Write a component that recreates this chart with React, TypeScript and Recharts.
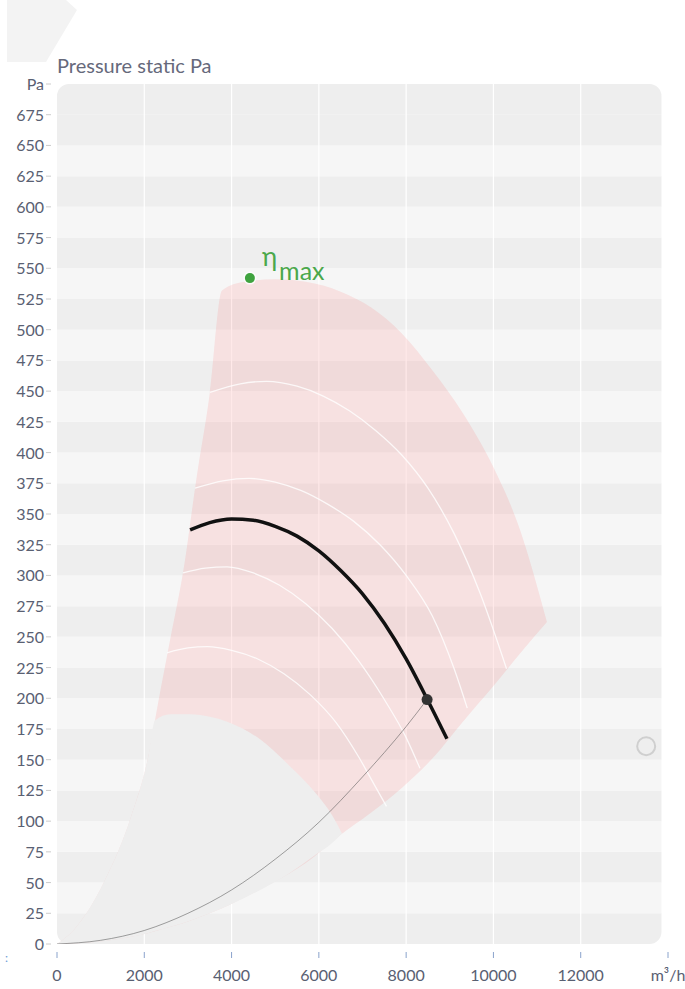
import { Area, ComposedChart, Line, ReferenceArea, ReferenceDot, XAxis, YAxis } from "recharts"

// axis ticks
const xTicks = [0, 2000, 4000, 6000, 8000, 10000, 12000, 14000]
const xTickLabels = ["0", "2000", "4000", "6000", "8000", "10000", "12000", "m³/h"]
const yTicks = [
  0, 25, 50, 75, 100, 125, 150, 175, 200, 225, 250, 275, 300, 325, 350,
  375, 400, 425, 450, 475, 500, 525, 550, 575, 600, 625, 650, 675, 700,
]
const yTickLabels = [
  "0", "25", "50", "75", "100", "125", "150", "175", "200", "225", "250", "275", "300", "325", "350",
  "375", "400", "425", "450", "475", "500", "525", "550", "575", "600", "625", "650", "675", "Pa",
]
const gridFlows = [2000, 4000, 6000, 8000, 10000, 12000]

// operating field (pink)
const fieldFlow = [0, 400, 1100, 1700, 2100, 2300, 2600, 2900, 3200, 3500, 3780, 4300, 5000, 5700, 6500, 7200, 7900, 8600, 9300, 10000, 10600, 11226]
const fieldLow = [0, 0.4, 2.5, 5.8, 9, 11, 14, 17, 21, 25, 29, 38, 51, 66, 89, 107, 127, 151, 181, 210, 236, 262]
const fieldHigh = [0, 12, 52, 104, 154, 193, 249, 305, 380, 448, 532, 539, 541, 539, 531, 518, 497, 467, 432, 388, 338, 262]

// excluded zone (grey)
const zoneFlow = [0, 400, 1100, 1700, 2100, 2245, 2600, 3050, 3500, 3900, 4600, 5300, 5900, 6300, 6529]
const zoneLow = [0, 0.4, 2.5, 5.8, 9, 10.5, 14, 19, 25, 31, 43, 57, 72, 82, 90]
const zoneHigh = [0, 12, 52, 104, 154, 182, 187, 187, 185, 181, 168, 146, 124, 105, 90]

// speed curves (white)
const speed1Flow = [3505, 4200, 4800, 5500, 6100, 6700, 7300, 7900, 8500, 9100, 9700, 10300]
const speed1Pa = [449, 456, 458, 454, 446, 434, 418, 398, 371, 334, 285, 224]
const speed2Flow = [3162, 3800, 4400, 5000, 5600, 6200, 6800, 7400, 8000, 8600, 9100, 9400]
const speed2Pa = [371, 377, 379, 376, 369, 358, 344, 325, 300, 267, 224, 192]
const speed3Flow = [2887, 3400, 3900, 4500, 5100, 5700, 6300, 6900, 7500, 8000, 8316]
const speed3Pa = [302, 306, 307, 302, 292, 277, 257, 231, 199, 168, 143]
const speed4Flow = [2520, 3000, 3450, 4000, 4600, 5200, 5800, 6400, 6900, 7250, 7550]
const speed4Pa = [237, 241, 242, 239, 232, 220, 203, 180, 153, 131, 112]

// selected fan curve (black)
const fanFlow = [3050, 3500, 4000, 4500, 5000, 5500, 6000, 6500, 7000, 7500, 8000, 8500, 8935]
const fanPa = [337, 343, 346, 345, 340, 332, 320, 304, 285, 261, 232, 198, 167]

// system curve
const systemFlow = [0, 1000, 2000, 3000, 4000, 5000, 6000, 7000, 8000, 8480]
const systemPa = [0, 3, 11, 25, 44, 69, 99, 136, 177, 199]

const operatingPoint = { flow: 8480, pa: 199 }
const etaMax = { flow: 4420, pa: 542 }
const marker = { flow: 13500, pa: 161 }

const toPoints = (flow: number[], pa: number[]) => flow.map((x, i) => ({ x, y: pa[i] }))
const toRange = (flow: number[], low: number[], high: number[]) =>
  flow.map((x, i) => ({ x, range: [low[i], high[i]] }))

const fieldData = toRange(fieldFlow, fieldLow, fieldHigh)
const zoneData = toRange(zoneFlow, zoneLow, zoneHigh)
const speedCurves = [
  toPoints(speed1Flow, speed1Pa),
  toPoints(speed2Flow, speed2Pa),
  toPoints(speed3Flow, speed3Pa),
  toPoints(speed4Flow, speed4Pa),
]
const fanData = toPoints(fanFlow, fanPa)
const systemData = toPoints(systemFlow, systemPa)

const font = "Lato, 'Open Sans', sans-serif"
const tickColor = "#596072"

function bandPath(x: number, y: number, w: number, h: number, rt: number, rb: number) {
  return (
    `M${x},${y + rt}` +
    (rt ? `A${rt},${rt} 0 0 1 ${x + rt},${y}` : "") +
    `L${x + w - rt},${y}` +
    (rt ? `A${rt},${rt} 0 0 1 ${x + w},${y + rt}` : "") +
    `L${x + w},${y + h - rb}` +
    (rb ? `A${rb},${rb} 0 0 1 ${x + w - rb},${y + h}` : "") +
    `L${x + rb},${y + h}` +
    (rb ? `A${rb},${rb} 0 0 1 ${x},${y + h - rb}` : "") +
    "Z"
  )
}

const XTick = (props: any) => {
  const { x, y, payload } = props
  const label = xTickLabels[xTicks.indexOf(payload.value)]
  return (
    <g>
      <line x1={x} x2={x} y1={y + 8} y2={y + 14} stroke="#8aa3cc" strokeWidth={1} />
      <text x={x} y={y + 37} textAnchor="middle" fontSize={16} fill={tickColor} fontFamily={font}>
        {label}
      </text>
    </g>
  )
}

const YTick = (props: any) => {
  const { x, y, payload } = props
  const label = yTickLabels[yTicks.indexOf(payload.value)]
  return (
    <g>
      <text x={x - 13} y={y + 6} textAnchor="end" fontSize={16} fill={tickColor} fontFamily={font}>
        {label}
      </text>
      <line x1={x - 11} x2={x - 6} y1={y} y2={y} stroke="#cccccc" strokeWidth={1} />
    </g>
  )
}

const EtaDot = (props: any) => {
  const { cx, cy } = props
  return (
    <g>
      <circle cx={cx} cy={cy} r={6.5} fill="#ffffff" fillOpacity={0.8} />
      <circle cx={cx} cy={cy} r={5} fill="#3fa33f" />
      <text x={cx + 12} y={cy - 12} fill="#4ba84b" fontFamily={font}>
        <tspan fontSize={26}>η</tspan>
        <tspan fontSize={25} dx={2} dy={14}>max</tspan>
      </text>
    </g>
  )
}

export default function App() {
  const bands = yTicks.slice(0, -1).map((lo, i) => ({
    lo,
    hi: yTicks[i + 1],
    dark: i % 2 === 0 || i === yTicks.length - 2,
    top: i === yTicks.length - 2,
    bottom: i === 0,
  }))

  return (
    <div style={{ position: "absolute", left: 0, top: 0, width: 685, height: 989, background: "#ffffff" }}>
      <div
        style={{
          position: "absolute",
          left: 0,
          top: 0,
          width: 80,
          height: 62,
          background: "#f3f3f3",
          clipPath: "polygon(7px 0, 66px 0, 77px 10px, 46px 62px, 7px 62px)",
        }}
      />
      <div
        style={{
          position: "absolute",
          left: 57,
          top: 53,
          fontFamily: font,
          fontSize: 20,
          lineHeight: "24px",
          color: "#66697b",
          whiteSpace: "nowrap",
        }}
      >
        Pressure static Pa
      </div>
      <div
        style={{
          position: "absolute",
          left: 5,
          top: 950,
          fontFamily: font,
          fontSize: 12,
          color: "#6f9bd6",
        }}
      >
        :
      </div>
      <ComposedChart
        width={685}
        height={989}
        margin={{ top: 84, right: 17, bottom: 15, left: 8 }}
        style={{ position: "absolute", left: 0, top: 0 }}
      >
        <XAxis
          dataKey="x"
          type="number"
          domain={[0, 14000]}
          ticks={xTicks}
          allowDataOverflow
          axisLine={false}
          tickLine={false}
          tickSize={0}
          tickMargin={0}
          height={30}
          interval={0}
          tick={<XTick />}
        />
        <YAxis
          type="number"
          domain={[0, 700]}
          ticks={yTicks}
          allowDataOverflow
          axisLine={false}
          tickLine={false}
          tickSize={0}
          tickMargin={0}
          width={49}
          interval={0}
          tick={<YTick />}
        />
        {bands.map((b) => (
          <ReferenceArea
            key={b.lo}
            x1={0}
            x2={13850}
            y1={b.lo}
            y2={b.hi}
            fill={b.dark ? "#eeeeee" : "#f6f6f6"}
            fillOpacity={1}
            stroke="none"
            shape={(p: any) => (
              <path
                d={bandPath(p.x, p.y, p.width, p.height, b.top ? 12 : 0, b.bottom ? 12 : 0)}
                fill={b.dark ? "#eeeeee" : "#f6f6f6"}
              />
            )}
          />
        ))}
        {/* vertical grid lines, kept under the coloured zones */}
        {gridFlows.map((f) => (
          <ReferenceArea
            key={`v${f}`}
            x1={f}
            x2={f + 1}
            y1={0}
            y2={700}
            stroke="none"
            shape={(p: any) => (
              <line x1={p.x} x2={p.x} y1={p.y} y2={p.y + p.height} stroke="#ffffff" strokeWidth={1.2} />
            )}
          />
        ))}
        <Area
          data={fieldData}
          dataKey="range"
          type="monotone"
          fill="#ff4d4d"
          fillOpacity={0.12}
          stroke="none"
          isAnimationActive={false}
          activeDot={false}
        />
        {speedCurves.map((c, i) => (
          <Line
            key={i}
            data={c}
            dataKey="y"
            type="monotone"
            stroke="#ffffff"
            strokeOpacity={0.8}
            strokeWidth={1.3}
            dot={false}
            activeDot={false}
            isAnimationActive={false}
          />
        ))}
        <Area
          data={zoneData}
          dataKey="range"
          type="monotone"
          fill="#eeeeee"
          fillOpacity={1}
          stroke="none"
          isAnimationActive={false}
          activeDot={false}
        />
        <Line
          data={systemData}
          dataKey="y"
          type="monotone"
          stroke="#555555"
          strokeOpacity={0.55}
          strokeWidth={1}
          dot={false}
          activeDot={false}
          isAnimationActive={false}
        />
        <Line
          data={fanData}
          dataKey="y"
          type="monotone"
          stroke="#111111"
          strokeWidth={3.5}
          dot={false}
          activeDot={false}
          isAnimationActive={false}
        />
        <ReferenceDot x={operatingPoint.flow} y={operatingPoint.pa} r={5.5} fill="#333333" stroke="none" />
        <ReferenceDot x={etaMax.flow} y={etaMax.pa} r={5} shape={<EtaDot />} />
        <ReferenceDot x={marker.flow} y={marker.pa} r={9} fill="none" stroke="#cfcfcf" strokeWidth={2} />
      </ComposedChart>
    </div>
  )
}
